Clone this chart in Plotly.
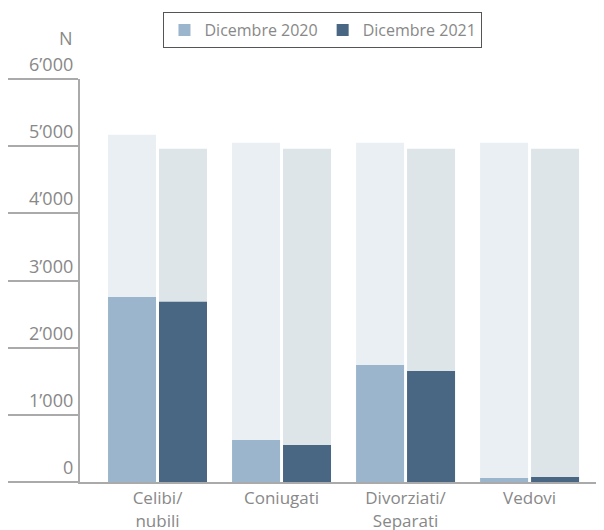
import plotly.graph_objects as go

CATEGORIES = ["Celibi/<br>nubili", "Coniugati", "Divorziati/<br>Separati", "Vedovi"]
VALUES_2020 = [2756, 626, 1743, 60]
VALUES_2021 = [2682, 551, 1654, 75]
TOTAL_2020 = [5170, 5051, 5051, 5051]
TOTAL_2021 = [4961, 4961, 4961, 4961]
Y_TICKS = [0, 1000, 2000, 3000, 4000, 5000, 6000]
Y_TICK_TEXT = ["0", "1’000", "2’000", "3’000", "4’000", "5’000", "6’000"]

STYLE = {
    "c2020": "#9bb5cc",
    "c2021": "#496682",
    "bg2020": "#e9eff3",
    "bg2021": "#dde5e8",
    "line": "#aaaaaa",
    "text": "#888888",
}
FONT = "Open Sans"

x = list(range(len(CATEGORIES)))
W = 0.387

fig = go.Figure()
fig.add_bar(x=x, y=TOTAL_2020, width=W, offset=-0.399, marker_color=STYLE["bg2020"],
            showlegend=False, hoverinfo="skip")
fig.add_bar(x=x, y=TOTAL_2021, width=W, offset=0.012, marker_color=STYLE["bg2021"],
            showlegend=False, hoverinfo="skip")
fig.add_bar(x=x, y=VALUES_2020, width=W, offset=-0.399, marker_color=STYLE["c2020"],
            name="Dicembre 2020")
fig.add_bar(x=x, y=VALUES_2021, width=W, offset=0.012, marker_color=STYLE["c2021"],
            name="Dicembre 2021")

fig.update_traces(marker_line_width=0)

# page has an 8px body margin, so the figure is 8px smaller on each side
fig.update_layout(
    width=596,
    height=522,
    barmode="overlay",
    template="simple_white",
    paper_bgcolor="white",
    plot_bgcolor="white",
    margin=dict(l=72, r=0, t=71, b=48),
    font=dict(family=FONT, color=STYLE["text"]),
    legend=dict(
        orientation="h",
        x=0.4637,
        xanchor="center",
        y=1.166,
        yanchor="top",
        bordercolor="#555555",
        borderwidth=1,
        font=dict(size=16, color=STYLE["text"]),
        itemwidth=30,
        traceorder="normal",
    ),
)

fig.update_xaxes(
    range=[-0.625, 3.6],
    tickvals=x,
    ticktext=CATEGORIES,
    showline=True,
    linecolor=STYLE["line"],
    linewidth=2,
    ticks="",
    tickfont=dict(size=17, color=STYLE["text"]),
    automargin=False,
)
fig.update_yaxes(
    range=[0, 6000],
    tickvals=Y_TICKS,
    showticklabels=False,
    ticks="outside",
    ticklen=70,
    tickwidth=2,
    tickcolor=STYLE["line"],
    showline=True,
    linecolor=STYLE["line"],
    linewidth=2,
    showgrid=False,
    automargin=False,
)

# tick labels sit above the tick lines
for v, t in zip(Y_TICKS, Y_TICK_TEXT):
    fig.add_annotation(
        x=-0.0095, xref="paper", xanchor="right",
        y=v, yref="y", yanchor="bottom", yshift=1,
        text=t, showarrow=False,
        font=dict(size=18, color=STYLE["text"]),
    )

fig.add_annotation(
    x=-0.0095, xref="paper", xanchor="right",
    y=1.102, yref="paper", yanchor="middle",
    text="N", showarrow=False,
    font=dict(size=18, color=STYLE["text"]),
)

fig.write_html("out.html")
